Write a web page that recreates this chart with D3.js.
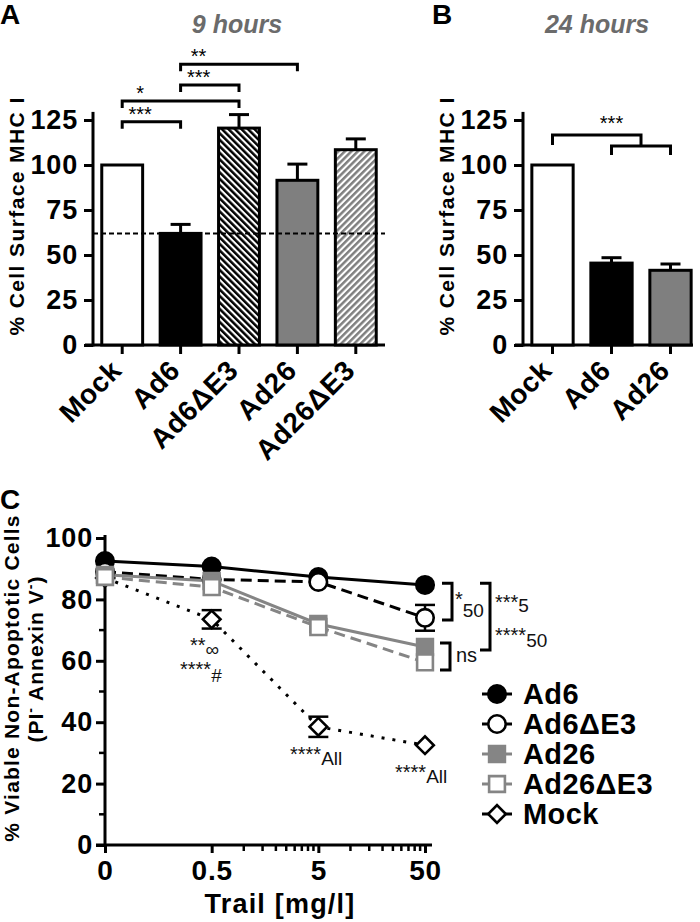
<!DOCTYPE html>
<html><head><meta charset="utf-8">
<script src="https://cdn.jsdelivr.net/npm/d3@7"></script>
<style>
body{margin:0;background:#fff}
text{font-family:"Liberation Sans",Arial,Helvetica,sans-serif}
</style>
</head><body>
<svg id="c" width="700" height="922"></svg>
<script>
// ---------- data ----------
const catsA = ["Mock","Ad6","Ad6ΔE3","Ad26","Ad26ΔE3"];
const valsA = [100, 62, 120.5, 91.5, 108.5];
const errA  = [0, 5, 7.5, 9, 6];
const catsB = ["Mock","Ad6","Ad26"];
const valsB = [100, 45.5, 41.5];
const errB  = [0, 3, 3.5];
const ticksAB = [0,25,50,75,100,125];
const refLineA = 62;

const doses = [0, 0.5, 5, 50];
const doseLabels = ["0","0.5","5","50"];
const ad6      = [92.5, 90.7, 87.3, 84.7];
const ad6dE3   = [89, 86.5, 85.7, 74];
const ad6dE3Err= [0, 0, 0, 4.2];
const ad26     = [88, 86, 72, 64.5];
const ad26dE3  = [87.3, 84, 71, 59.5];
const mock     = [87, 73.5, 38.5, 32.5];
const mockErr  = [0, 3, 3.3, 0];
const ticksC = [0,20,40,60,80,100];
const minorC = [10,30,50,70,90];
const minorX = [1,1.5,2,2.5,3,3.5,4,4.5,10,15,20,25,30,35,40,45];

const svg = d3.select("#c");
const BOLD = "bold";
const FF = '"Liberation Sans",Arial,sans-serif';

// patterns
const defs = svg.append("defs");
function stripes(id, color, angle){
  const p = defs.append("pattern").attr("id", id).attr("patternUnits","userSpaceOnUse")
    .attr("width", 4.6).attr("height", 4.6).attr("patternTransform", `rotate(${angle})`);
  p.append("rect").attr("width",4.6).attr("height",4.6).attr("fill","#fff");
  p.append("rect").attr("width",2.5).attr("height",4.6).attr("fill",color);
}
stripes("pBlk", "#000", -45);
stripes("pGry", "#7f7f7f", 45);
const fills = {"Mock":"#fff","Ad6":"#000","Ad6ΔE3":"url(#pBlk)","Ad26":"#7f7f7f","Ad26ΔE3":"url(#pGry)"};

function txt(g, x, y, s, size, opts={}){
  const t = g.append("text").attr("x",x).attr("y",y).text(s)
    .attr("font-size", size).attr("font-weight", opts.weight||"normal")
    .attr("fill", opts.fill||"#000").attr("text-anchor", opts.anchor||"start");
  if(opts.ls) t.attr("letter-spacing", opts.ls);
  if(opts.style) t.attr("font-style", opts.style);
  if(opts.transform) t.attr("transform", opts.transform);
  return t;
}
function styleTicks(sel, size){
  sel.selectAll(".tick line").attr("stroke-width",3);
  sel.selectAll(".tick text").attr("font-size",size).attr("font-weight",BOLD).attr("letter-spacing","0.8px")
    .attr("font-family",FF).attr("fill","#000");
}

// ---------- bar panel helper ----------
function barPanel(cats, vals, errs, x0, x1, axisEnd){
  const y = d3.scaleLinear().domain([0,125]).range([345,120]);
  const x = d3.scaleBand().domain(cats).range([x0, x1]).paddingInner(0.3).paddingOuter(0.15);
  const g = svg.append("g");
  g.append("line").attr("x1",x0).attr("x2",x0).attr("y1",y(0)+1.5).attr("y2",y(129.5))
    .attr("stroke","#000").attr("stroke-width",3);
  g.append("line").attr("x1",x0-8).attr("x2",axisEnd).attr("y1",y(0)).attr("y2",y(0))
    .attr("stroke","#000").attr("stroke-width",3);
  const ya = g.append("g").attr("transform",`translate(${x0},0)`)
    .call(d3.axisLeft(y).tickValues(ticksAB).tickSize(9).tickPadding(6));
  ya.select(".domain").remove();
  styleTicks(ya, 27);
  g.selectAll("rect.bar").data(cats).join("rect").attr("class","bar")
    .attr("x", d=>x(d)).attr("width", x.bandwidth())
    .attr("y", (d,i)=>y(vals[i])).attr("height",(d,i)=>y(0)-y(vals[i]))
    .attr("fill", d=>fills[d]).attr("stroke","#000").attr("stroke-width",3);
  cats.forEach((c,i)=>{
    if(!errs[i]) return;
    const cx = x(c)+x.bandwidth()/2;
    g.append("line").attr("x1",cx).attr("x2",cx).attr("y1",y(vals[i])).attr("y2",y(vals[i]+errs[i]))
      .attr("stroke","#000").attr("stroke-width",3);
    g.append("line").attr("x1",cx-10).attr("x2",cx+10).attr("y1",y(vals[i]+errs[i])).attr("y2",y(vals[i]+errs[i]))
      .attr("stroke","#000").attr("stroke-width",3);
  });
  cats.forEach(c=>{
    const cx = x(c)+x.bandwidth()/2;
    g.append("line").attr("x1",cx).attr("x2",cx).attr("y1",y(0)).attr("y2",y(0)+9)
      .attr("stroke","#000").attr("stroke-width",3);
    txt(g, 0, 0, c, 28, {weight:BOLD, anchor:"end", ls:"0.6px",
      transform:`translate(${cx+1},${y(0)+27}) rotate(-45)`});
  });
  return {x,y,g};
}

function bracket(g, xa, xb, yy, leg){
  g.append("path").attr("d",`M${xa},${yy+leg}V${yy}H${xb}V${yy+leg}`)
    .attr("fill","none").attr("stroke","#000").attr("stroke-width",3);
}

// ---------- Panel A ----------
const A = barPanel(catsA, valsA, errA, 93, 385, 385);
A.g.append("line").attr("x1",93).attr("x2",385).attr("y1",A.y(refLineA)).attr("y2",A.y(refLineA))
  .attr("stroke","#000").attr("stroke-width",2).attr("stroke-dasharray","5,3");
const cA = c => A.x(c)+A.x.bandwidth()/2;
const sigA = [
  {from:"Mock", to:"Ad6",    level:124,   label:"***"},
  {from:"Mock", to:"Ad6ΔE3", level:135.5, label:"*"},
  {from:"Ad6",  to:"Ad6ΔE3", level:144.5, label:"***"},
  {from:"Ad6",  to:"Ad26",   level:156,   label:"**"}
];
sigA.forEach(s=>{
  bracket(A.g, cA(s.from), cA(s.to), A.y(s.level), 7);
  txt(A.g, cA(s.from)+18, A.y(s.level)-1, s.label, 20, {anchor:"middle"});
});
txt(svg, 0, 24, "A", 28, {weight:BOLD});
txt(svg, 237, 33, "9 hours", 25, {weight:BOLD, style:"italic", fill:"#6b6b6b", anchor:"middle"});
txt(svg, 0, 0, "% Cell Surface MHC I", 21, {weight:BOLD, anchor:"middle", ls:"1.4px",
  transform:"translate(24,216) rotate(-90)"});

// ---------- Panel B ----------
const B = barPanel(catsB, valsB, errB, 523, 700, 693);
const cB = c => B.x(c)+B.x.bandwidth()/2;
{
  const mid = (cB("Ad6")+cB("Ad26"))/2;
  const yUp = B.y(116.7), yLo = B.y(110.6);
  B.g.append("path").attr("d",`M${cB("Mock")},${yUp+10}V${yUp}H${mid}V${yLo}`)
    .attr("fill","none").attr("stroke","#000").attr("stroke-width",3);
  bracket(B.g, cB("Ad6"), cB("Ad26"), yLo, 9);
  txt(B.g, cB("Ad6"), yUp-5, "***", 20, {anchor:"middle"});
}
txt(svg, 432, 24, "B", 28, {weight:BOLD});
txt(svg, 597, 33, "24 hours", 25, {weight:BOLD, style:"italic", fill:"#6b6b6b", anchor:"middle"});
txt(svg, 0, 0, "% Cell Surface MHC I", 21, {weight:BOLD, anchor:"middle", ls:"1.4px",
  transform:"translate(454,216) rotate(-90)"});

// ---------- Panel C ----------
const gC = svg.append("g");
const yC = d3.scaleLinear().domain([0,100]).range([845,538]);
const xC = d3.scaleLog().domain([0.05,50]).range([105,425]);
const xv = d => d===0 ? 0.05 : d;
gC.append("line").attr("x1",105).attr("x2",105).attr("y1",yC(0)+1.5).attr("y2",yC(101))
  .attr("stroke","#000").attr("stroke-width",3);
gC.append("line").attr("x1",96).attr("x2",432).attr("y1",yC(0)).attr("y2",yC(0))
  .attr("stroke","#000").attr("stroke-width",3);
const yaC = gC.append("g").attr("transform","translate(105,0)")
  .call(d3.axisLeft(yC).tickValues(ticksC).tickSize(9).tickPadding(3));
yaC.select(".domain").remove();
styleTicks(yaC, 27);
minorC.forEach(v=>gC.append("line").attr("x1",99).attr("x2",105).attr("y1",yC(v)).attr("y2",yC(v))
  .attr("stroke","#000").attr("stroke-width",2.5));
const xaC = gC.append("g").attr("transform",`translate(0,${yC(0)})`)
  .call(d3.axisBottom(xC).tickValues(doses.map(xv)).tickSize(8).tickPadding(7)
    .tickFormat((d,i)=>doseLabels[i]));
xaC.select(".domain").remove();
styleTicks(xaC, 28);
minorX.forEach(v=>gC.append("line").attr("x1",xC(v)).attr("x2",xC(v)).attr("y1",yC(0)).attr("y2",yC(0)+6)
  .attr("stroke","#000").attr("stroke-width",2.5));

txt(svg, 0, 509, "C", 28, {weight:BOLD});
txt(svg, 280, 913, "Trail [mg/l]", 27, {weight:BOLD, anchor:"middle", ls:"1.2px"});
txt(svg, 0, 0, "% Viable Non-Apoptotic Cells", 21, {weight:BOLD, anchor:"middle", ls:"1.2px",
  transform:"translate(19,678) rotate(-90)"});
{
  const t = svg.append("text").attr("transform","translate(43,659) rotate(-90)")
    .attr("text-anchor","middle").attr("font-size",21).attr("font-weight",BOLD).attr("letter-spacing","1px");
  t.append("tspan").text("(PI");
  t.append("tspan").text("-").attr("font-size",14).attr("dy",-8);
  t.append("tspan").text(" Annexin V").attr("dy",8);
  t.append("tspan").text("-").attr("font-size",14).attr("dy",-8);
  t.append("tspan").text(")").attr("dy",8);
}

const GRY = "#858585";
const series = [
  {name:"Ad6",     vals:ad6,     err:null,      color:"#000", dash:null,   shape:"circle", fill:"#000"},
  {name:"Ad6ΔE3",  vals:ad6dE3,  err:ad6dE3Err, color:"#000", dash:"11,6", shape:"circle", fill:"#fff"},
  {name:"Ad26",    vals:ad26,    err:null,      color:GRY,    dash:null,   shape:"square", fill:GRY},
  {name:"Ad26ΔE3", vals:ad26dE3, err:null,      color:GRY,    dash:"11,6", shape:"square", fill:"#fff"},
  {name:"Mock",    vals:mock,    err:mockErr,   color:"#000", dash:"3,8",  shape:"diamond", fill:"#fff"}
];
function marker(g, s, cx, cy){
  let m;
  if(s.shape==="circle") m = g.append("path").attr("d", d3.symbol(d3.symbolCircle, 240)());
  else if(s.shape==="square") m = g.append("path").attr("d", d3.symbol(d3.symbolSquare, 250)());
  else m = g.append("path").attr("d", d3.symbol(d3.symbolSquare, 155)());
  m.attr("transform", `translate(${cx},${cy})` + (s.shape==="diamond"?" rotate(45)":""))
   .attr("fill", s.fill).attr("stroke", s.color).attr("stroke-width", 2.6);
}
const line = d3.line().x((d,i)=>xC(xv(doses[i]))).y(d=>yC(d));
const order = [series[4],series[0],series[1],series[2],series[3]];
order.forEach(s=>{
  gC.append("path").attr("d", line(s.vals)).attr("fill","none").attr("stroke", s.color)
    .attr("stroke-width",3).attr("stroke-dasharray", s.dash);
});
order.forEach(s=>{
  s.vals.forEach((v,i)=>{
    const cx = xC(xv(doses[i]));
    if(s.err && s.err[i]){
      const e = s.err[i];
      gC.append("line").attr("x1",cx).attr("x2",cx).attr("y1",yC(v-e)).attr("y2",yC(v+e))
        .attr("stroke",s.color).attr("stroke-width",2.5);
      [v-e, v+e].forEach(t=>gC.append("line").attr("x1",cx-10).attr("x2",cx+10).attr("y1",yC(t)).attr("y2",yC(t))
        .attr("stroke",s.color).attr("stroke-width",2.5));
    }
    marker(gC, s, cx, yC(v));
  });
});

// annotations
function annot(x, y, main, sub, subDy, size, subSize){
  const t = gC.append("text").attr("x",x).attr("y",y).attr("font-size",size).attr("fill","#111");
  t.append("tspan").text(main);
  if(sub) t.append("tspan").text(sub).attr("font-size",subSize).attr("dy",subDy);
}
annot(190, 652, "**", "∞", 4, 20, 19);
annot(180, 676, "****", "#", 6, 20, 19);
annot(290, 761, "****", "All", 4, 20, 19);
annot(395, 779, "****", "All", 4, 20, 19);
function rbracket(xb, v1, v2){
  gC.append("path").attr("d",`M${xb-10},${yC(v1)}H${xb}V${yC(v2)}H${xb-10}`)
    .attr("fill","none").attr("stroke","#000").attr("stroke-width",3);
}
rbracket(452, 85.3, 73.3);
rbracket(490, 85.3, 63.5);
rbracket(450, 65.8, 57);
annot(455, 606, "*", "50", 11, 20, 19);
annot(495, 609, "***", "5", 3, 20, 19);
annot(495, 642, "****", "50", 5, 20, 19);
gC.append("text").attr("x",456).attr("y",662).attr("font-size",20).attr("fill","#111").text("ns");

// legend
const lg = svg.append("g");
series.forEach((s,i)=>{
  const yy = 694 + i*30;
  lg.append("line").attr("x1",482).attr("x2",512).attr("y1",yy).attr("y2",yy)
    .attr("stroke",s.color).attr("stroke-width",3);
  marker(lg, s, 497, yy);
  txt(lg, 523, yy+10, s.name, 29, {weight:BOLD, ls:"0.4px"});
});
</script>
</body></html>
